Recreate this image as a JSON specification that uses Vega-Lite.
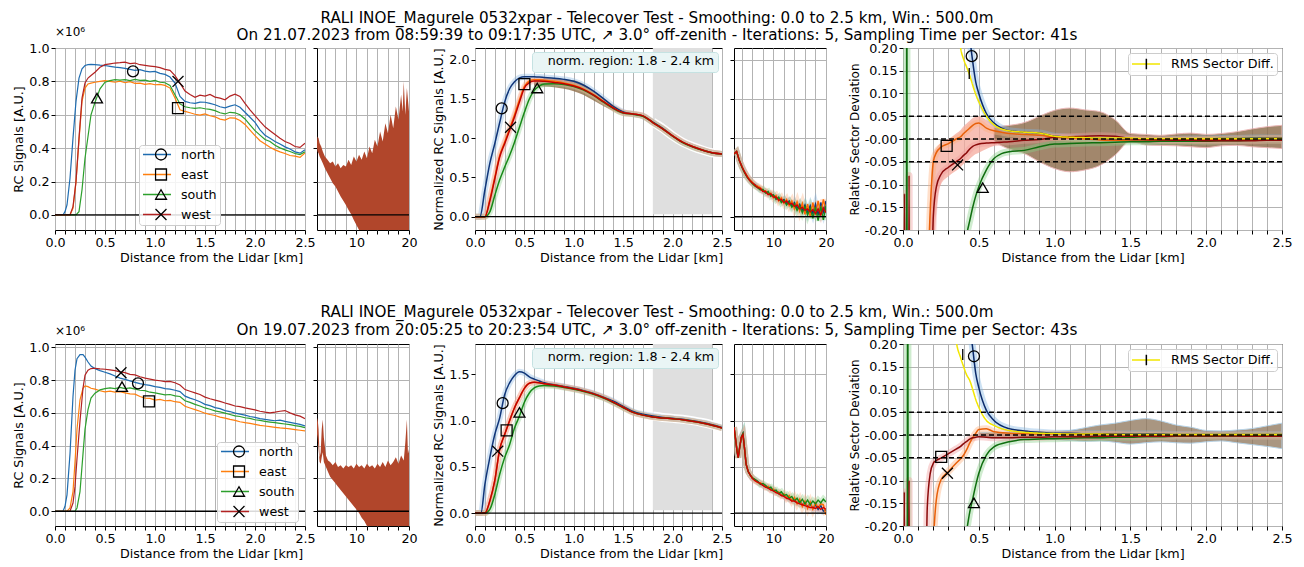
{
"$schema":"https://vega.github.io/schema/vega-lite/v6.json",
"padding":{"left":12,"top":10,"right":5,"bottom":2},
"background":"white",
"spacing":40,
"resolve":{"scale":{"color":"independent","shape":"independent","fill":"independent","stroke":"independent","strokeDash":"independent"},"legend":{"color":"independent","shape":"independent","fill":"independent","stroke":"independent","strokeDash":"independent"}},
"datasets":{
"one":[{"k":1}],
"dl":[{"v":-0.05},{"v":0},{"v":0.05}],
"nr":[{"x1":1.8,"x2":2.4,"lab":"norm. region: 1.8 - 2.4 km"}],
"mk":[
{"p":"a1","x":0.78,"y":0.86,"m":"n"},{"p":"a1","x":1.23,"y":0.64,"m":"e"},{"p":"a1","x":0.42,"y":0.70,"m":"s"},{"p":"a1","x":1.23,"y":0.80,"m":"w"},
{"p":"a3","x":0.27,"y":1.38,"m":"n"},{"p":"a3","x":0.50,"y":1.69,"m":"e"},{"p":"a3","x":0.63,"y":1.64,"m":"s"},{"p":"a3","x":0.36,"y":1.14,"m":"w"},
{"p":"a5","x":0.453,"y":0.182,"m":"n"},{"p":"a5","x":0.288,"y":-0.015,"m":"e"},{"p":"a5","x":0.526,"y":-0.107,"m":"s"},{"p":"a5","x":0.36,"y":-0.057,"m":"w"},{"p":"a5","x":0.437,"y":0.144,"m":"r"},
{"p":"b1","x":0.83,"y":0.78,"m":"n"},{"p":"b1","x":0.94,"y":0.67,"m":"e"},{"p":"b1","x":0.67,"y":0.76,"m":"s"},{"p":"b1","x":0.66,"y":0.845,"m":"w"},
{"p":"b3","x":0.28,"y":1.19,"m":"n"},{"p":"b3","x":0.32,"y":0.895,"m":"e"},{"p":"b3","x":0.45,"y":1.09,"m":"s"},{"p":"b3","x":0.23,"y":0.67,"m":"w"},
{"p":"b5","x":0.468,"y":0.173,"m":"n"},{"p":"b5","x":0.252,"y":-0.048,"m":"e"},{"p":"b5","x":0.468,"y":-0.149,"m":"s"},{"p":"b5","x":0.293,"y":-0.084,"m":"w"},{"p":"b5","x":0.394,"y":0.177,"m":"r"}
],
"a1":[
{"x":0,"n":0,"e":0,"s":0,"w":0},{"x":0.05,"n":0,"e":0,"s":0,"w":0},{"x":0.08,"n":0,"e":0,"s":0,"w":0},{"x":0.1,"n":0.02,"e":0,"s":0,"w":0},{"x":0.12,"n":0.06,"e":0,"s":0,"w":0},
{"x":0.15,"n":0.22,"e":0,"s":0,"w":0},{"x":0.18,"n":0.46,"e":0.04,"s":0,"w":0.05},{"x":0.21,"n":0.68,"e":0.2,"s":0,"w":0.2},{"x":0.24,"n":0.82,"e":0.45,"s":0.02,"w":0.46},
{"x":0.27,"n":0.875,"e":0.68,"s":0.15,"w":0.7},{"x":0.3,"n":0.895,"e":0.76,"s":0.34,"w":0.79},{"x":0.33,"n":0.9,"e":0.785,"s":0.47,"w":0.82},{"x":0.36,"n":0.902,"e":0.79,"s":0.6,"w":0.835},
{"x":0.4,"n":0.9,"e":0.795,"s":0.675,"w":0.855},{"x":0.45,"n":0.897,"e":0.8,"s":0.755,"w":0.885},{"x":0.5,"n":0.895,"e":0.805,"s":0.795,"w":0.9},{"x":0.55,"n":0.89,"e":0.8,"s":0.805,"w":0.905},
{"x":0.6,"n":0.885,"e":0.795,"s":0.81,"w":0.91},{"x":0.65,"n":0.882,"e":0.802,"s":0.808,"w":0.912},{"x":0.7,"n":0.878,"e":0.792,"s":0.81,"w":0.915},{"x":0.75,"n":0.872,"e":0.798,"s":0.805,"w":0.907},
{"x":0.8,"n":0.866,"e":0.788,"s":0.812,"w":0.91},{"x":0.85,"n":0.87,"e":0.79,"s":0.806,"w":0.9},{"x":0.9,"n":0.862,"e":0.782,"s":0.808,"w":0.896},{"x":0.95,"n":0.857,"e":0.787,"s":0.8,"w":0.892},
{"x":1.0,"n":0.86,"e":0.78,"s":0.806,"w":0.888},{"x":1.05,"n":0.848,"e":0.782,"s":0.795,"w":0.882},{"x":1.1,"n":0.842,"e":0.776,"s":0.792,"w":0.872},{"x":1.15,"n":0.826,"e":0.76,"s":0.776,"w":0.866},
{"x":1.2,"n":0.79,"e":0.7,"s":0.72,"w":0.835},{"x":1.25,"n":0.71,"e":0.63,"s":0.665,"w":0.79},{"x":1.3,"n":0.68,"e":0.62,"s":0.648,"w":0.742},{"x":1.35,"n":0.672,"e":0.612,"s":0.642,"w":0.722},
{"x":1.4,"n":0.668,"e":0.603,"s":0.638,"w":0.705},{"x":1.45,"n":0.676,"e":0.598,"s":0.642,"w":0.718},{"x":1.5,"n":0.675,"e":0.605,"s":0.636,"w":0.712},{"x":1.55,"n":0.668,"e":0.594,"s":0.632,"w":0.722},
{"x":1.6,"n":0.66,"e":0.588,"s":0.625,"w":0.706},{"x":1.65,"n":0.648,"e":0.574,"s":0.612,"w":0.7},{"x":1.7,"n":0.642,"e":0.568,"s":0.605,"w":0.69},{"x":1.75,"n":0.652,"e":0.582,"s":0.615,"w":0.712},
{"x":1.8,"n":0.66,"e":0.58,"s":0.612,"w":0.724},{"x":1.85,"n":0.645,"e":0.566,"s":0.6,"w":0.71},{"x":1.9,"n":0.615,"e":0.542,"s":0.575,"w":0.668},{"x":1.95,"n":0.585,"e":0.508,"s":0.54,"w":0.63},
{"x":2.0,"n":0.555,"e":0.475,"s":0.505,"w":0.595},{"x":2.05,"n":0.51,"e":0.445,"s":0.478,"w":0.56},{"x":2.1,"n":0.478,"e":0.425,"s":0.452,"w":0.528},{"x":2.15,"n":0.46,"e":0.405,"s":0.44,"w":0.505},
{"x":2.2,"n":0.44,"e":0.39,"s":0.418,"w":0.482},{"x":2.25,"n":0.425,"e":0.378,"s":0.402,"w":0.46},{"x":2.3,"n":0.408,"e":0.368,"s":0.39,"w":0.44},{"x":2.35,"n":0.395,"e":0.356,"s":0.38,"w":0.428},
{"x":2.4,"n":0.378,"e":0.352,"s":0.368,"w":0.41},{"x":2.45,"n":0.37,"e":0.345,"s":0.362,"w":0.405},{"x":2.5,"n":0.39,"e":0.372,"s":0.378,"w":0.43}
],
"b1":[
{"x":0,"n":0,"e":0,"s":0,"w":0},{"x":0.05,"n":0,"e":0,"s":0,"w":0},{"x":0.08,"n":0,"e":0,"s":0,"w":0},{"x":0.1,"n":0.03,"e":0,"s":0,"w":0},{"x":0.12,"n":0.1,"e":0,"s":0,"w":0},
{"x":0.15,"n":0.35,"e":0.02,"s":0,"w":0},{"x":0.18,"n":0.7,"e":0.12,"s":0,"w":0.05},{"x":0.2,"n":0.86,"e":0.3,"s":0,"w":0.15},{"x":0.22,"n":0.93,"e":0.5,"s":0.02,"w":0.32},
{"x":0.25,"n":0.955,"e":0.68,"s":0.12,"w":0.55},{"x":0.28,"n":0.955,"e":0.75,"s":0.35,"w":0.75},{"x":0.3,"n":0.94,"e":0.765,"s":0.5,"w":0.83},{"x":0.33,"n":0.91,"e":0.76,"s":0.62,"w":0.86},
{"x":0.36,"n":0.885,"e":0.75,"s":0.69,"w":0.87},{"x":0.4,"n":0.87,"e":0.745,"s":0.72,"w":0.872},{"x":0.45,"n":0.858,"e":0.735,"s":0.74,"w":0.868},{"x":0.5,"n":0.848,"e":0.728,"s":0.748,"w":0.866},
{"x":0.55,"n":0.838,"e":0.732,"s":0.752,"w":0.862},{"x":0.6,"n":0.825,"e":0.726,"s":0.748,"w":0.858},{"x":0.65,"n":0.812,"e":0.73,"s":0.755,"w":0.85},{"x":0.7,"n":0.804,"e":0.722,"s":0.748,"w":0.845},
{"x":0.75,"n":0.795,"e":0.716,"s":0.752,"w":0.835},{"x":0.8,"n":0.786,"e":0.714,"s":0.745,"w":0.832},{"x":0.85,"n":0.778,"e":0.7,"s":0.738,"w":0.82},{"x":0.9,"n":0.772,"e":0.69,"s":0.736,"w":0.812},
{"x":0.95,"n":0.768,"e":0.688,"s":0.726,"w":0.806},{"x":1.0,"n":0.76,"e":0.678,"s":0.722,"w":0.8},{"x":1.05,"n":0.755,"e":0.682,"s":0.716,"w":0.796},{"x":1.1,"n":0.748,"e":0.674,"s":0.71,"w":0.79},
{"x":1.15,"n":0.745,"e":0.676,"s":0.712,"w":0.792},{"x":1.2,"n":0.738,"e":0.668,"s":0.704,"w":0.784},{"x":1.25,"n":0.73,"e":0.664,"s":0.7,"w":0.77},{"x":1.3,"n":0.702,"e":0.64,"s":0.674,"w":0.742},
{"x":1.35,"n":0.69,"e":0.63,"s":0.664,"w":0.732},{"x":1.4,"n":0.68,"e":0.62,"s":0.652,"w":0.722},{"x":1.45,"n":0.668,"e":0.61,"s":0.642,"w":0.712},{"x":1.5,"n":0.652,"e":0.598,"s":0.63,"w":0.696},
{"x":1.55,"n":0.644,"e":0.59,"s":0.622,"w":0.686},{"x":1.6,"n":0.632,"e":0.584,"s":0.612,"w":0.678},{"x":1.65,"n":0.626,"e":0.574,"s":0.606,"w":0.67},{"x":1.7,"n":0.614,"e":0.568,"s":0.598,"w":0.66},
{"x":1.75,"n":0.608,"e":0.56,"s":0.59,"w":0.652},{"x":1.8,"n":0.598,"e":0.554,"s":0.582,"w":0.642},{"x":1.85,"n":0.592,"e":0.546,"s":0.578,"w":0.638},{"x":1.9,"n":0.586,"e":0.54,"s":0.57,"w":0.63},
{"x":1.95,"n":0.578,"e":0.536,"s":0.566,"w":0.624},{"x":2.0,"n":0.572,"e":0.53,"s":0.558,"w":0.618},{"x":2.05,"n":0.565,"e":0.524,"s":0.554,"w":0.61},{"x":2.1,"n":0.56,"e":0.52,"s":0.548,"w":0.604},
{"x":2.15,"n":0.556,"e":0.516,"s":0.544,"w":0.6},{"x":2.2,"n":0.552,"e":0.512,"s":0.54,"w":0.604},{"x":2.25,"n":0.556,"e":0.508,"s":0.536,"w":0.61},{"x":2.3,"n":0.548,"e":0.506,"s":0.532,"w":0.614},
{"x":2.35,"n":0.542,"e":0.502,"s":0.528,"w":0.6},{"x":2.4,"n":0.536,"e":0.498,"s":0.522,"w":0.588},{"x":2.45,"n":0.53,"e":0.494,"s":0.518,"w":0.58},{"x":2.5,"n":0.52,"e":0.49,"s":0.51,"w":0.565}
],
"a2":[
{"x":2.5,"lo":0.4,"hi":0.44},{"x":2.6,"lo":0.38,"hi":0.47},{"x":2.8,"lo":0.37,"hi":0.46},{"x":3.0,"lo":0.35,"hi":0.43},{"x":3.3,"lo":0.33,"hi":0.41},{"x":3.6,"lo":0.31,"hi":0.38},
{"x":4.0,"lo":0.28,"hi":0.35},{"x":4.5,"lo":0.25,"hi":0.33},{"x":5.0,"lo":0.22,"hi":0.31},{"x":5.5,"lo":0.19,"hi":0.32},{"x":6.0,"lo":0.17,"hi":0.29},{"x":6.5,"lo":0.14,"hi":0.31},
{"x":7.0,"lo":0.11,"hi":0.28},{"x":7.5,"lo":0.085,"hi":0.3},{"x":8.0,"lo":0.06,"hi":0.29},{"x":8.5,"lo":0.03,"hi":0.33},{"x":9.0,"lo":0.005,"hi":0.3},{"x":9.5,"lo":-0.03,"hi":0.35},
{"x":10,"lo":-0.06,"hi":0.32},{"x":10.5,"lo":-0.09,"hi":0.36},{"x":11,"lo":-0.12,"hi":0.33},{"x":11.5,"lo":-0.12,"hi":0.38},{"x":12,"lo":-0.12,"hi":0.34},{"x":12.5,"lo":-0.12,"hi":0.41},
{"x":13,"lo":-0.12,"hi":0.37},{"x":13.5,"lo":-0.12,"hi":0.45},{"x":14,"lo":-0.12,"hi":0.41},{"x":14.5,"lo":-0.12,"hi":0.5},{"x":15,"lo":-0.12,"hi":0.44},{"x":15.5,"lo":-0.12,"hi":0.55},
{"x":16,"lo":-0.12,"hi":0.49},{"x":16.5,"lo":-0.12,"hi":0.6},{"x":17,"lo":-0.12,"hi":0.52},{"x":17.5,"lo":-0.12,"hi":0.65},{"x":18,"lo":-0.12,"hi":0.57},{"x":18.5,"lo":-0.12,"hi":0.72},
{"x":18.8,"lo":-0.12,"hi":0.62},{"x":19.0,"lo":-0.12,"hi":0.8},{"x":19.3,"lo":-0.12,"hi":0.6},{"x":19.6,"lo":-0.12,"hi":0.76},{"x":20,"lo":-0.12,"hi":0.62}
],
"b2":[
{"x":2.5,"lo":0.47,"hi":0.55},{"x":2.6,"lo":0.45,"hi":0.57},{"x":2.8,"lo":0.38,"hi":0.5},{"x":3.0,"lo":0.3,"hi":0.33},{"x":3.2,"lo":0.29,"hi":0.36},{"x":3.4,"lo":0.33,"hi":0.5},
{"x":3.6,"lo":0.36,"hi":0.56},{"x":3.8,"lo":0.3,"hi":0.45},{"x":4.2,"lo":0.27,"hi":0.34},{"x":4.6,"lo":0.24,"hi":0.31},{"x":5.0,"lo":0.21,"hi":0.3},{"x":5.5,"lo":0.19,"hi":0.28},
{"x":6.0,"lo":0.17,"hi":0.3},{"x":6.5,"lo":0.15,"hi":0.27},{"x":7.0,"lo":0.13,"hi":0.28},{"x":7.5,"lo":0.11,"hi":0.26},{"x":8.0,"lo":0.09,"hi":0.28},{"x":8.5,"lo":0.07,"hi":0.27},
{"x":9.0,"lo":0.05,"hi":0.28},{"x":9.5,"lo":0.03,"hi":0.26},{"x":10,"lo":0.01,"hi":0.29},{"x":10.5,"lo":-0.01,"hi":0.27},{"x":11,"lo":-0.04,"hi":0.28},{"x":11.5,"lo":-0.06,"hi":0.26},
{"x":12,"lo":-0.09,"hi":0.29},{"x":12.5,"lo":-0.12,"hi":0.27},{"x":13,"lo":-0.12,"hi":0.28},{"x":13.5,"lo":-0.12,"hi":0.26},{"x":14,"lo":-0.12,"hi":0.29},{"x":14.5,"lo":-0.12,"hi":0.27},
{"x":15,"lo":-0.12,"hi":0.3},{"x":15.5,"lo":-0.12,"hi":0.27},{"x":16,"lo":-0.12,"hi":0.31},{"x":16.5,"lo":-0.12,"hi":0.28},{"x":17,"lo":-0.12,"hi":0.3},{"x":17.5,"lo":-0.12,"hi":0.33},
{"x":18,"lo":-0.12,"hi":0.29},{"x":18.5,"lo":-0.12,"hi":0.34},{"x":19,"lo":-0.12,"hi":0.31},{"x":19.3,"lo":-0.12,"hi":0.42},{"x":19.6,"lo":-0.12,"hi":0.56},{"x":19.8,"lo":-0.12,"hi":0.35},{"x":20,"lo":-0.12,"hi":0.38}
],
"a3":[
{"x":0,"n":0,"e":0,"s":0,"w":0},{"x":0.05,"n":0,"e":0,"s":0,"w":0},{"x":0.1,"n":0.34,"e":0,"s":0,"w":0},{"x":0.15,"n":0.68,"e":0.22,"s":0.06,"w":0.2},
{"x":0.2,"n":0.93,"e":0.5,"s":0.27,"w":0.48},{"x":0.25,"n":1.2,"e":0.78,"s":0.47,"w":0.76},{"x":0.3,"n":1.46,"e":0.95,"s":0.63,"w":0.93},{"x":0.35,"n":1.63,"e":1.12,"s":0.78,"w":1.1},
{"x":0.4,"n":1.72,"e":1.3,"s":0.95,"w":1.27},{"x":0.45,"n":1.77,"e":1.49,"s":1.14,"w":1.46},{"x":0.5,"n":1.785,"e":1.66,"s":1.33,"w":1.64},{"x":0.55,"n":1.785,"e":1.73,"s":1.5,"w":1.71},
{"x":0.6,"n":1.782,"e":1.745,"s":1.61,"w":1.73,"bl":1.66,"bh":1.75},{"x":0.65,"n":1.78,"e":1.745,"s":1.665,"w":1.73,"bl":1.66,"bh":1.755},{"x":0.7,"n":1.775,"e":1.74,"s":1.69,"w":1.725,"bl":1.66,"bh":1.76},
{"x":0.8,"n":1.765,"e":1.725,"s":1.695,"w":1.71,"bl":1.65,"bh":1.76},{"x":0.9,"n":1.75,"e":1.705,"s":1.685,"w":1.695,"bl":1.63,"bh":1.75},{"x":1.0,"n":1.725,"e":1.675,"s":1.66,"w":1.665,"bl":1.6,"bh":1.74},
{"x":1.1,"n":1.675,"e":1.625,"s":1.615,"w":1.62,"bl":1.55,"bh":1.69},{"x":1.2,"n":1.6,"e":1.555,"s":1.545,"w":1.55,"bl":1.48,"bh":1.6},{"x":1.3,"n":1.505,"e":1.47,"s":1.46,"w":1.465,"bl":1.41,"bh":1.5},
{"x":1.4,"n":1.405,"e":1.385,"s":1.38,"w":1.385,"bl":1.35,"bh":1.4},{"x":1.5,"n":1.335,"e":1.325,"s":1.32,"w":1.325,"bl":1.31,"bh":1.335},{"x":1.6,"n":1.31,"e":1.31,"s":1.305,"w":1.31},
{"x":1.7,"n":1.285,"e":1.285,"s":1.28,"w":1.285},{"x":1.8,"n":1.205,"e":1.2,"s":1.2,"w":1.2},{"x":1.9,"n":1.125,"e":1.12,"s":1.12,"w":1.12},{"x":2.0,"n":1.03,"e":1.03,"s":1.025,"w":1.03},
{"x":2.1,"n":0.95,"e":0.95,"s":0.945,"w":0.95},{"x":2.2,"n":0.895,"e":0.895,"s":0.89,"w":0.895},{"x":2.3,"n":0.85,"e":0.85,"s":0.848,"w":0.85},{"x":2.4,"n":0.815,"e":0.815,"s":0.812,"w":0.815},{"x":2.5,"n":0.8,"e":0.8,"s":0.8,"w":0.8}
],
"b3":[
{"x":0,"n":0,"e":0,"s":0,"w":0},{"x":0.06,"n":0,"e":0,"s":0,"w":0},{"x":0.1,"n":0.31,"e":0,"s":0,"w":0},{"x":0.15,"n":0.6,"e":0.13,"s":0.04,"w":0.13},
{"x":0.2,"n":0.85,"e":0.35,"s":0.2,"w":0.35},{"x":0.25,"n":1.03,"e":0.69,"s":0.42,"w":0.69},{"x":0.3,"n":1.28,"e":0.85,"s":0.6,"w":0.85},{"x":0.35,"n":1.41,"e":1.0,"s":0.74,"w":1.0},
{"x":0.4,"n":1.49,"e":1.14,"s":0.92,"w":1.14},{"x":0.45,"n":1.53,"e":1.25,"s":1.05,"w":1.25},{"x":0.5,"n":1.515,"e":1.35,"s":1.2,"w":1.35},{"x":0.55,"n":1.475,"e":1.405,"s":1.3,"w":1.405},
{"x":0.6,"n":1.45,"e":1.415,"s":1.355,"w":1.415},{"x":0.65,"n":1.43,"e":1.41,"s":1.375,"w":1.41},{"x":0.7,"n":1.41,"e":1.4,"s":1.38,"w":1.4},{"x":0.8,"n":1.39,"e":1.385,"s":1.375,"w":1.385},
{"x":0.9,"n":1.37,"e":1.365,"s":1.36,"w":1.365},{"x":1.0,"n":1.35,"e":1.345,"s":1.34,"w":1.345},{"x":1.1,"n":1.325,"e":1.32,"s":1.315,"w":1.32},{"x":1.2,"n":1.295,"e":1.29,"s":1.285,"w":1.29},
{"x":1.3,"n":1.255,"e":1.25,"s":1.245,"w":1.25},{"x":1.4,"n":1.21,"e":1.2,"s":1.195,"w":1.2},{"x":1.5,"n":1.155,"e":1.145,"s":1.14,"w":1.145},{"x":1.6,"n":1.1,"e":1.09,"s":1.09,"w":1.09},
{"x":1.7,"n":1.07,"e":1.06,"s":1.06,"w":1.06},{"x":1.8,"n":1.05,"e":1.04,"s":1.04,"w":1.04},{"x":1.9,"n":1.035,"e":1.03,"s":1.03,"w":1.03},{"x":2.0,"n":1.025,"e":1.02,"s":1.02,"w":1.02},
{"x":2.1,"n":1.015,"e":1.01,"s":1.01,"w":1.01},{"x":2.2,"n":1.0,"e":0.995,"s":0.995,"w":0.995},{"x":2.3,"n":0.98,"e":0.975,"s":0.975,"w":0.975},{"x":2.4,"n":0.955,"e":0.95,"s":0.95,"w":0.95},{"x":2.5,"n":0.925,"e":0.92,"s":0.92,"w":0.92}
],
"a4":[
{"x":2.5,"n":0.8,"e":0.8,"s":0.8,"w":0.8},{"x":3.0,"n":0.83,"e":0.83,"s":0.83,"w":0.83},{"x":3.5,"n":0.72,"e":0.72,"s":0.72,"w":0.72},{"x":4.0,"n":0.64,"e":0.64,"s":0.63,"w":0.64},
{"x":4.5,"n":0.57,"e":0.57,"s":0.56,"w":0.57},{"x":5.0,"n":0.51,"e":0.52,"s":0.5,"w":0.51},{"x":5.5,"n":0.47,"e":0.47,"s":0.46,"w":0.46},{"x":6.0,"n":0.43,"e":0.44,"s":0.42,"w":0.43},
{"x":6.5,"n":0.41,"e":0.4,"s":0.39,"w":0.4},{"x":7.0,"n":0.38,"e":0.39,"s":0.37,"w":0.37},{"x":7.5,"n":0.35,"e":0.37,"s":0.34,"w":0.36},{"x":8.0,"n":0.34,"e":0.33,"s":0.35,"w":0.32},
{"x":8.5,"n":0.31,"e":0.33,"s":0.3,"w":0.32},{"x":9.0,"n":0.3,"e":0.29,"s":0.32,"w":0.28},{"x":9.5,"n":0.28,"e":0.3,"s":0.26,"w":0.29},{"x":10.0,"n":0.27,"e":0.24,"s":0.28,"w":0.25},
{"x":10.5,"n":0.23,"e":0.27,"s":0.22,"w":0.25},{"x":11.0,"n":0.24,"e":0.2,"s":0.25,"w":0.21},{"x":11.5,"n":0.2,"e":0.24,"s":0.18,"w":0.22},{"x":12.0,"n":0.22,"e":0.17,"s":0.21,"w":0.18},
{"x":12.5,"n":0.17,"e":0.22,"s":0.15,"w":0.2},{"x":13.0,"n":0.2,"e":0.14,"s":0.19,"w":0.16},{"x":13.5,"n":0.14,"e":0.2,"s":0.12,"w":0.17},{"x":14.0,"n":0.18,"e":0.1,"s":0.16,"w":0.13},
{"x":14.5,"n":0.11,"e":0.19,"s":0.08,"w":0.15},{"x":15.0,"n":0.16,"e":0.07,"s":0.14,"w":0.1},{"x":15.5,"n":0.08,"e":0.17,"s":0.05,"w":0.12},{"x":16.0,"n":0.15,"e":0.03,"s":0.13,"w":0.08},
{"x":16.5,"n":0.05,"e":0.16,"s":0.02,"w":0.1},{"x":17.0,"n":0.14,"e":0.0,"s":0.11,"w":0.06},{"x":17.5,"n":0.04,"e":0.18,"s":-0.02,"w":0.09},{"x":18.0,"n":0.16,"e":0.02,"s":0.12,"w":0.04},
{"x":18.5,"n":0.02,"e":0.2,"s":-0.05,"w":0.1},{"x":19.0,"n":0.18,"e":0.03,"s":0.13,"w":0.02},{"x":19.5,"n":0.06,"e":0.22,"s":-0.04,"w":0.11},{"x":20.0,"n":0.2,"e":0.08,"s":0.14,"w":0.05}
],
"b4":[
{"x":2.5,"n":0.93,"e":0.93,"s":0.93,"w":0.93},{"x":2.8,"n":0.8,"e":0.8,"s":0.8,"w":0.8},{"x":3.1,"n":0.66,"e":0.67,"s":0.66,"w":0.66},{"x":3.3,"n":0.6,"e":0.6,"s":0.6,"w":0.6},
{"x":3.6,"n":0.72,"e":0.72,"s":0.72,"w":0.72},{"x":3.9,"n":0.82,"e":0.82,"s":0.82,"w":0.82},{"x":4.2,"n":0.86,"e":0.85,"s":0.86,"w":0.85},{"x":4.5,"n":0.7,"e":0.7,"s":0.7,"w":0.7},
{"x":4.8,"n":0.53,"e":0.53,"s":0.53,"w":0.53},{"x":5.2,"n":0.45,"e":0.45,"s":0.45,"w":0.45},{"x":5.6,"n":0.41,"e":0.41,"s":0.41,"w":0.41},{"x":6.0,"n":0.38,"e":0.385,"s":0.38,"w":0.375},
{"x":6.5,"n":0.36,"e":0.35,"s":0.365,"w":0.35},{"x":7.0,"n":0.34,"e":0.33,"s":0.345,"w":0.335},{"x":7.5,"n":0.32,"e":0.33,"s":0.31,"w":0.32},{"x":8.0,"n":0.3,"e":0.31,"s":0.32,"w":0.3},
{"x":8.5,"n":0.29,"e":0.28,"s":0.3,"w":0.28},{"x":9.0,"n":0.28,"e":0.29,"s":0.27,"w":0.27},{"x":9.5,"n":0.26,"e":0.25,"s":0.28,"w":0.25},{"x":10,"n":0.25,"e":0.26,"s":0.24,"w":0.24},
{"x":10.5,"n":0.23,"e":0.22,"s":0.25,"w":0.22},{"x":11,"n":0.22,"e":0.23,"s":0.21,"w":0.21},{"x":11.5,"n":0.2,"e":0.19,"s":0.23,"w":0.19},{"x":12,"n":0.19,"e":0.21,"s":0.19,"w":0.18},
{"x":12.5,"n":0.17,"e":0.16,"s":0.2,"w":0.16},{"x":13,"n":0.16,"e":0.19,"s":0.16,"w":0.15},{"x":13.5,"n":0.14,"e":0.13,"s":0.18,"w":0.13},{"x":14,"n":0.14,"e":0.17,"s":0.13,"w":0.13},
{"x":14.5,"n":0.11,"e":0.1,"s":0.16,"w":0.11},{"x":15,"n":0.13,"e":0.15,"s":0.11,"w":0.1},{"x":15.5,"n":0.09,"e":0.07,"s":0.15,"w":0.09},{"x":16,"n":0.11,"e":0.13,"s":0.1,"w":0.08},
{"x":16.5,"n":0.07,"e":0.05,"s":0.14,"w":0.07},{"x":17,"n":0.1,"e":0.12,"s":0.09,"w":0.06},{"x":17.5,"n":0.05,"e":0.04,"s":0.13,"w":0.06},{"x":18,"n":0.09,"e":0.11,"s":0.1,"w":0.05},
{"x":18.5,"n":0.04,"e":0.06,"s":0.14,"w":0.07},{"x":19,"n":0.08,"e":0.1,"s":0.11,"w":0.04},{"x":19.5,"n":0.02,"e":0.09,"s":0.15,"w":0.06},{"x":20,"n":0.03,"e":-0.02,"s":0.12,"w":0.04}
],
"a5":[
{"x":0,"n":0.6,"e":-0.6,"s":-0.6,"w":-0.6,"r":0.6},{"x":0.005,"n":0.6,"e":-0.6,"s":-0.6,"w":-0.6,"r":0.6},{"x":0.01,"n":0.6,"e":-0.6,"s":-0.6,"w":-0.12,"r":0.6},
{"x":0.015,"n":0.6,"e":-0.6,"s":-0.6,"w":-0.6,"r":0.6},{"x":0.022,"n":0.6,"e":-0.6,"s":-0.6,"w":-0.6,"r":0.6},{"x":0.025,"n":0.6,"e":-0.6,"s":0.6,"w":-0.6,"r":0.6},
{"x":0.028,"n":0.6,"e":-0.6,"s":-0.6,"w":-0.6,"r":0.6},{"x":0.036,"n":0.6,"e":-0.6,"s":-0.6,"w":-0.6,"r":0.6},{"x":0.04,"n":0.6,"e":-0.6,"s":-0.6,"w":-0.08,"r":0.6},
{"x":0.044,"n":0.6,"e":-0.6,"s":-0.6,"w":-0.6,"r":0.6},{"x":0.1,"n":0.6,"e":-0.6,"s":-0.6,"w":-0.6,"r":0.6},{"x":0.15,"n":0.6,"e":-0.6,"s":-0.6,"w":-0.6,"r":0.6},
{"x":0.17,"n":0.6,"e":-0.25,"s":-0.6,"w":-0.6,"r":0.6,"pl":-0.6,"ph":-0.3},
{"x":0.19,"n":0.6,"e":-0.09,"s":-0.6,"w":-0.3,"r":0.6,"pl":-0.6,"ph":-0.06},
{"x":0.2,"n":0.6,"e":-0.05,"s":-0.6,"w":-0.17,"r":0.6,"pl":-0.3,"ph":-0.035},
{"x":0.22,"n":0.6,"e":-0.03,"s":-0.6,"w":-0.105,"r":0.6,"pl":-0.16,"ph":-0.02},
{"x":0.25,"n":0.6,"e":-0.018,"s":-0.6,"w":-0.078,"r":0.6,"pl":-0.1,"ph":-0.008},
{"x":0.3,"n":0.6,"e":-0.01,"s":-0.6,"w":-0.062,"r":0.6,"pl":-0.082,"ph":0.0},
{"x":0.35,"n":0.6,"e":0.0,"s":-0.6,"w":-0.05,"r":0.3,"pl":-0.07,"ph":0.012},
{"x":0.38,"n":0.6,"e":0.005,"s":-0.6,"w":-0.043,"r":0.2,"pl":-0.062,"ph":0.02},
{"x":0.4,"n":0.6,"e":0.012,"s":-0.25,"w":-0.036,"r":0.175,"pl":-0.055,"ph":0.028},
{"x":0.42,"n":0.35,"e":0.018,"s":-0.21,"w":-0.03,"r":0.158,"pl":-0.05,"ph":0.034},
{"x":0.44,"n":0.23,"e":0.024,"s":-0.18,"w":-0.022,"r":0.14,"pl":-0.044,"ph":0.04},
{"x":0.46,"n":0.17,"e":0.03,"s":-0.15,"w":-0.016,"r":0.118,"pl":-0.038,"ph":0.046},
{"x":0.48,"n":0.125,"e":0.034,"s":-0.125,"w":-0.013,"r":0.098,"pl":-0.033,"ph":0.049},
{"x":0.5,"n":0.1,"e":0.035,"s":-0.105,"w":-0.011,"r":0.082,"pl":-0.03,"ph":0.05},
{"x":0.55,"n":0.056,"e":0.024,"s":-0.068,"w":-0.009,"r":0.05,"pl":-0.022,"ph":0.042},
{"x":0.6,"n":0.035,"e":0.018,"s":-0.043,"w":-0.008,"r":0.031,"pl":-0.015,"ph":0.032,"bl":-0.005,"bh":0.025},
{"x":0.65,"n":0.024,"e":0.015,"s":-0.032,"w":-0.007,"r":0.022,"pl":-0.01,"ph":0.026,"bl":-0.015,"bh":0.028},
{"x":0.7,"n":0.018,"e":0.012,"s":-0.028,"w":-0.006,"r":0.018,"bl":-0.022,"bh":0.03},
{"x":0.8,"n":0.015,"e":0.01,"s":-0.025,"w":-0.003,"r":0.015,"bl":-0.032,"bh":0.036},
{"x":0.9,"n":0.013,"e":0.008,"s":-0.017,"w":-0.001,"r":0.013,"bl":-0.05,"bh":0.05},
{"x":1.0,"n":0.006,"e":0.004,"s":-0.011,"w":0.004,"r":0.006,"bl":-0.065,"bh":0.063},
{"x":1.1,"n":0.004,"e":0.002,"s":-0.01,"w":0.005,"r":0.004,"bl":-0.072,"bh":0.068},
{"x":1.2,"n":0.002,"e":0.0,"s":-0.009,"w":0.006,"r":0.003,"bl":-0.068,"bh":0.064},
{"x":1.3,"n":0.001,"e":-0.002,"s":-0.008,"w":0.007,"r":0.002,"bl":-0.058,"bh":0.06},
{"x":1.4,"n":0.0,"e":-0.003,"s":-0.007,"w":0.006,"r":0.002,"bl":-0.035,"bh":0.042},
{"x":1.5,"n":-0.002,"e":-0.002,"s":-0.006,"w":0.001,"r":0.002,"bl":-0.005,"bh":0.012},
{"x":1.6,"n":-0.003,"e":-0.002,"s":-0.006,"w":-0.001,"r":0.001,"bl":-0.013,"bh":0.01},
{"x":1.7,"n":-0.002,"e":-0.003,"s":-0.005,"w":-0.002,"r":0.001,"bl":-0.014,"bh":0.008},
{"x":1.8,"n":-0.001,"e":-0.002,"s":-0.005,"w":-0.003,"r":0.001,"bl":-0.015,"bh":0.011},
{"x":1.9,"n":0.0,"e":-0.002,"s":-0.005,"w":-0.003,"r":0.001,"bl":-0.017,"bh":0.013},
{"x":2.0,"n":0.0,"e":-0.001,"s":-0.005,"w":-0.004,"r":0.001,"bl":-0.019,"bh":0.01},
{"x":2.1,"n":0.001,"e":-0.001,"s":-0.004,"w":-0.004,"r":0.001,"bl":-0.015,"bh":0.012},
{"x":2.2,"n":0.001,"e":0.0,"s":-0.004,"w":-0.004,"r":0.001,"bl":-0.014,"bh":0.016},
{"x":2.3,"n":0.002,"e":0.0,"s":-0.003,"w":-0.004,"r":0.001,"bl":-0.017,"bh":0.022},
{"x":2.4,"n":0.002,"e":0.001,"s":-0.003,"w":-0.003,"r":0.001,"bl":-0.019,"bh":0.027},
{"x":2.5,"n":0.002,"e":0.001,"s":-0.003,"w":-0.003,"r":0.001,"bl":-0.021,"bh":0.03}
],
"b5":[
{"x":0,"n":0.6,"e":-0.6,"s":-0.6,"w":-0.6,"r":0.6},{"x":0.005,"n":0.6,"e":-0.6,"s":-0.6,"w":-0.6,"r":0.6},{"x":0.009,"n":0.6,"e":-0.6,"s":-0.6,"w":-0.125,"r":0.6},
{"x":0.013,"n":0.6,"e":-0.6,"s":-0.6,"w":-0.6,"r":0.6},{"x":0.027,"n":0.6,"e":-0.6,"s":-0.6,"w":-0.6,"r":0.6},{"x":0.031,"n":0.6,"e":-0.6,"s":0.6,"w":-0.6,"r":0.6},
{"x":0.035,"n":0.6,"e":-0.6,"s":-0.6,"w":-0.6,"r":0.6},{"x":0.04,"n":0.6,"e":-0.6,"s":-0.6,"w":-0.1,"r":0.6},{"x":0.044,"n":0.6,"e":-0.6,"s":-0.6,"w":-0.6,"r":0.6},
{"x":0.1,"n":0.6,"e":-0.6,"s":-0.6,"w":-0.6,"r":0.6},{"x":0.14,"n":0.6,"e":-0.6,"s":-0.6,"w":-0.6,"r":0.6},{"x":0.16,"n":0.6,"e":-0.6,"s":-0.6,"w":-0.16,"r":0.6},
{"x":0.18,"n":0.6,"e":-0.6,"s":-0.6,"w":-0.084,"r":0.6},{"x":0.2,"n":0.6,"e":-0.25,"s":-0.6,"w":-0.062,"r":0.6},{"x":0.22,"n":0.6,"e":-0.142,"s":-0.6,"w":-0.056,"r":0.6},
{"x":0.25,"n":0.6,"e":-0.099,"s":-0.6,"w":-0.051,"r":0.6},{"x":0.3,"n":0.6,"e":-0.08,"s":-0.6,"w":-0.041,"r":0.6},{"x":0.35,"n":0.6,"e":-0.062,"s":-0.6,"w":-0.031,"r":0.21},
{"x":0.38,"n":0.6,"e":-0.052,"s":-0.6,"w":-0.025,"r":0.17},{"x":0.4,"n":0.6,"e":-0.044,"s":-0.25,"w":-0.019,"r":0.15},{"x":0.42,"n":0.4,"e":-0.032,"s":-0.21,"w":-0.014,"r":0.132},
{"x":0.44,"n":0.25,"e":-0.018,"s":-0.17,"w":-0.009,"r":0.12},{"x":0.46,"n":0.19,"e":-0.006,"s":-0.14,"w":-0.006,"r":0.1},{"x":0.48,"n":0.135,"e":0.004,"s":-0.11,"w":-0.005,"r":0.078},
{"x":0.5,"n":0.104,"e":0.012,"s":-0.084,"w":-0.004,"r":0.061,"bl":-0.006,"bh":0.006},
{"x":0.55,"n":0.054,"e":0.014,"s":-0.044,"w":-0.005,"r":0.032,"bl":-0.006,"bh":0.006},
{"x":0.6,"n":0.032,"e":0.007,"s":-0.026,"w":-0.006,"r":0.021,"bl":-0.007,"bh":0.006},
{"x":0.7,"n":0.014,"e":0.004,"s":-0.015,"w":-0.006,"r":0.01,"bl":-0.008,"bh":0.006},
{"x":0.8,"n":0.009,"e":0.003,"s":-0.01,"w":-0.005,"r":0.006,"bl":-0.008,"bh":0.006},
{"x":0.9,"n":0.006,"e":0.002,"s":-0.009,"w":-0.005,"r":0.004,"bl":-0.009,"bh":0.007},
{"x":1.0,"n":0.004,"e":0.002,"s":-0.008,"w":-0.004,"r":0.003,"bl":-0.01,"bh":0.008},
{"x":1.1,"n":0.004,"e":0.001,"s":-0.007,"w":-0.004,"r":0.002,"bl":-0.012,"bh":0.01},
{"x":1.2,"n":0.003,"e":0.001,"s":-0.006,"w":-0.004,"r":0.002,"bl":-0.014,"bh":0.016},
{"x":1.3,"n":0.003,"e":0.001,"s":-0.006,"w":-0.003,"r":0.002,"bl":-0.013,"bh":0.022},
{"x":1.4,"n":0.002,"e":0.001,"s":-0.005,"w":-0.003,"r":0.001,"bl":-0.016,"bh":0.026},
{"x":1.5,"n":0.002,"e":0.0,"s":-0.005,"w":-0.003,"r":0.001,"bl":-0.02,"bh":0.032},
{"x":1.6,"n":0.002,"e":0.0,"s":-0.004,"w":-0.003,"r":0.001,"bl":-0.017,"bh":0.036},
{"x":1.7,"n":0.002,"e":0.0,"s":-0.004,"w":-0.003,"r":0.001,"bl":-0.015,"bh":0.031},
{"x":1.8,"n":0.001,"e":0.0,"s":-0.003,"w":-0.002,"r":0.001,"bl":-0.017,"bh":0.022},
{"x":1.9,"n":0.001,"e":0.0,"s":-0.003,"w":-0.002,"r":0.001,"bl":-0.018,"bh":0.017},
{"x":2.0,"n":0.001,"e":0.0,"s":-0.003,"w":-0.002,"r":0.001,"bl":-0.015,"bh":0.01},
{"x":2.1,"n":0.001,"e":0.0,"s":-0.002,"w":-0.002,"r":0.001,"bl":-0.013,"bh":0.009},
{"x":2.2,"n":0.001,"e":0.0,"s":-0.002,"w":-0.002,"r":0.001,"bl":-0.017,"bh":0.011},
{"x":2.3,"n":0.001,"e":0.0,"s":-0.002,"w":-0.003,"r":0.001,"bl":-0.021,"bh":0.014},
{"x":2.4,"n":0.001,"e":0.0,"s":-0.002,"w":-0.003,"r":0.001,"bl":-0.025,"bh":0.02},
{"x":2.5,"n":0.001,"e":0.0,"s":-0.002,"w":-0.003,"r":0.001,"bl":-0.03,"bh":0.026}
]
},
"vconcat":[
{
"title":{"text":["RALI INOE_Magurele 0532xpar - Telecover Test - Smoothing: 0.0 to 2.5 km, Win.: 500.0m","On 21.07.2023 from 08:59:39 to 09:17:35 UTC,  ↗ 3.0° off-zenith - Iterations: 5, Sampling Time per Sector: 41s"],"anchor":"start","align":"center","frame":"group","dx":602,"fontSize":15.2,"lineHeight":17.5,"offset":-18},
"bounds":"flush","spacing":12,
"resolve":{"scale":{"color":"independent","shape":"independent","fill":"independent","stroke":"independent","strokeDash":"independent"},"legend":{"color":"independent","shape":"independent","fill":"independent","stroke":"independent","strokeDash":"independent"}},
"hconcat":[
{"width":250,"height":182,
 "title":{"text":"×10⁶","anchor":"start","fontSize":12,"offset":3,"frame":"group"},
 "layer":[
 {"data":{"name":"a1"},"transform":[{"fold":["n","e","s","w"]}],"mark":{"type":"line","clip":true,"strokeWidth":1.2},
  "encoding":{
   "x":{"field":"x","type":"quantitative","scale":{"domain":[0,2.5],"nice":false},"axis":{"values":[0,0.1,0.2,0.3,0.4,0.5,0.6,0.7,0.8,0.9,1,1.1,1.2,1.3,1.4,1.5,1.6,1.7,1.8,1.9,2,2.1,2.2,2.3,2.4,2.5],"tickCount":100,"labelExpr":"round(datum.value*10)%5==0 ? format(datum.value,'.1f') : ''","labelOverlap":false,"title":"Distance from the Lidar [km]","titleX":156}},
   "y":{"field":"value","type":"quantitative","scale":{"domain":[-0.09,1.0],"nice":false,"zero":false},"axis":{"values":[0,0.2,0.4,0.6,0.8,1],"tickCount":100,"format":".1f","labelOverlap":false,"title":"RC Signals [A.U.]"}},
   "color":{"field":"key","type":"nominal","scale":{"domain":["n","e","s","w"],"range":["#1f6cb0","#ff7f0e","#2ca02c","#b22222"]},
     "legend":{"title":null,"orient":"none","legendX":84,"legendY":97,"direction":"vertical","symbolType":"stroke","symbolSize":784,"symbolStrokeWidth":1.5,"clipHeight":13,"rowPadding":6,"padding":3,"labelOffset":9,"labelExpr":"datum.label=='n'?'north':datum.label=='e'?'east':datum.label=='s'?'south':'west'","fillColor":"rgba(255,255,255,0.85)","strokeColor":"#cccccc","cornerRadius":3}}
  }},
 {"data":{"name":"one"},"mark":{"type":"rule","color":"black","strokeWidth":1.3},"encoding":{"y":{"datum":0,"type":"quantitative"}}},
 {"data":{"name":"mk"},"transform":[{"filter":"datum.p=='a1'"}],"mark":{"type":"point","filled":false,"color":"black","strokeWidth":1.3,"size":120,"opacity":1},
  "encoding":{"x":{"field":"x","type":"quantitative"},"y":{"field":"y","type":"quantitative"},
   "shape":{"field":"m","type":"nominal","scale":{"domain":["n","e","s","w","r"],"range":["circle","square","triangle-up","M-1,-1L1,1M-1,1L1,-1","M0,-1L0,1"]},
     "legend":{"title":null,"values":["n","e","s","w"],"orient":"none","legendX":96.5,"legendY":97,"direction":"vertical","symbolSize":120,"symbolStrokeWidth":1.3,"symbolStrokeColor":"black","symbolFillColor":"transparent","clipHeight":13,"rowPadding":6,"padding":3,"labelOpacity":0}}}}
 ]},
{"width":92,"height":182,
 "layer":[
 {"data":{"name":"a2"},"mark":{"type":"area","clip":true,"color":"#b1462b","opacity":1},
  "encoding":{"x":{"field":"x","type":"quantitative","scale":{"domain":[2.5,20],"nice":false},"axis":{"values":[4,6,8,10,12,14,16,18,20],"tickCount":100,"labelExpr":"datum.value%10==0 ? format(datum.value,'d') : ''","labelOverlap":false,"title":null}},
   "y":{"field":"lo","type":"quantitative","scale":{"domain":[-0.09,1.0],"nice":false,"zero":false},"axis":{"values":[0,0.2,0.4,0.6,0.8,1],"tickCount":100,"labels":false,"title":null}},"y2":{"field":"hi"}}},
 {"data":{"name":"one"},"mark":{"type":"rule","color":"black","strokeWidth":1.3},"encoding":{"y":{"datum":0,"type":"quantitative"}}}
 ]},
{"width":42,"height":182,"data":{"values":[]},"mark":"rule","encoding":{},"view":{"stroke":null}},
{"width":247,"height":182,
 "layer":[
 {"data":{"name":"nr"},"mark":{"type":"rect","clip":true},
  "encoding":{"x":{"field":"x1","type":"quantitative","scale":{"domain":[0,2.5],"nice":false},"axis":{"values":[0,0.1,0.2,0.3,0.4,0.5,0.6,0.7,0.8,0.9,1,1.1,1.2,1.3,1.4,1.5,1.6,1.7,1.8,1.9,2,2.1,2.2,2.3,2.4,2.5],"tickCount":100,"labelExpr":"round(datum.value*10)%5==0 ? format(datum.value,'.1f') : ''","labelOverlap":false,"title":"Distance from the Lidar [km]","titleX":156}},"x2":{"field":"x2"},
   "y":{"datum":0.03,"type":"quantitative","scale":{"domain":[-0.17,2.15],"nice":false,"zero":false},"axis":{"values":[0,0.5,1,1.5,2],"tickCount":100,"format":".1f","labelOverlap":false,"title":"Normalized RC Signals [A.U.]"}},"y2":{"datum":2.15},
   "fill":{"field":"lab","type":"nominal","scale":{"range":["#dfdfdf"]},"legend":{"title":null,"orient":"top-right","offset":4,"symbolSize":0,"symbolStrokeWidth":0,"labelOffset":0,"labelLimit":400,"padding":3,"fillColor":"#e9f5f5","strokeColor":"#c5e2e2","cornerRadius":3}}}},
 {"data":{"name":"a3"},"mark":{"type":"area","clip":true,"color":"#8f6a45","opacity":0.8,"interpolate":"monotone"},"encoding":{"x":{"field":"x","type":"quantitative"},"y":{"field":"bl","type":"quantitative"},"y2":{"field":"bh"}}},
 {"data":{"name":"a3"},"transform":[{"filter":"datum.x>=1.75"}],"mark":{"type":"line","clip":true,"color":"white","strokeWidth":9,"interpolate":"monotone"},"encoding":{"x":{"field":"x","type":"quantitative"},"y":{"field":"n","type":"quantitative"}}},
 {"data":{"name":"a3"},"transform":[{"fold":["n","e","s","w"]}],"mark":{"type":"line","clip":true,"strokeWidth":6,"opacity":0.35,"interpolate":"monotone"},
  "encoding":{"x":{"field":"x","type":"quantitative"},"y":{"field":"value","type":"quantitative"},"stroke":{"field":"key","type":"nominal","scale":{"domain":["n","e","s","w"],"range":["#80b3e0","#ffb07a","#86cf86","#f09a9a"]},"legend":null}}},
 {"data":{"name":"a3"},"transform":[{"fold":["n","e","s","w"]}],"mark":{"type":"line","clip":true,"strokeWidth":1.5,"interpolate":"monotone"},
  "encoding":{"x":{"field":"x","type":"quantitative"},"y":{"field":"value","type":"quantitative"},"color":{"field":"key","type":"nominal","scale":{"domain":["n","e","s","w"],"range":["#10367a","#ff6a00","#178a17","#c00000"]},"legend":null}}},
 {"data":{"name":"one"},"mark":{"type":"rule","color":"black","strokeWidth":1.3},"encoding":{"y":{"datum":0,"type":"quantitative"}}},
 {"data":{"name":"mk"},"transform":[{"filter":"datum.p=='a3'"}],"mark":{"type":"point","filled":false,"color":"black","strokeWidth":1.3,"size":120,"opacity":1},
  "encoding":{"x":{"field":"x","type":"quantitative"},"y":{"field":"y","type":"quantitative"},"shape":{"field":"m","type":"nominal","scale":{"domain":["n","e","s","w","r"],"range":["circle","square","triangle-up","M-1,-1L1,1M-1,1L1,-1","M0,-1L0,1"]},"legend":null}}}
 ]},
{"width":92,"height":182,
 "layer":[
 {"data":{"name":"a4"},"transform":[{"fold":["n","e","s","w"]}],"mark":{"type":"line","clip":true,"strokeWidth":6,"opacity":0.35},
  "encoding":{"x":{"field":"x","type":"quantitative","scale":{"domain":[2.5,20],"nice":false},"axis":{"values":[4,6,8,10,12,14,16,18,20],"tickCount":100,"labelExpr":"datum.value%10==0 ? format(datum.value,'d') : ''","labelOverlap":false,"title":null}},
   "y":{"field":"value","type":"quantitative","scale":{"domain":[-0.17,2.15],"nice":false,"zero":false},"axis":{"values":[0,0.5,1,1.5,2],"tickCount":100,"labels":false,"title":null}},
   "stroke":{"field":"key","type":"nominal","scale":{"domain":["n","e","s","w"],"range":["#80b3e0","#ffb07a","#86cf86","#f09a9a"]},"legend":null}}},
 {"data":{"name":"a4"},"transform":[{"fold":["n","e","s","w"]}],"mark":{"type":"line","clip":true,"strokeWidth":1.4},
  "encoding":{"x":{"field":"x","type":"quantitative"},"y":{"field":"value","type":"quantitative"},"color":{"field":"key","type":"nominal","scale":{"domain":["n","e","s","w"],"range":["#10367a","#ff6a00","#178a17","#d00000"]},"legend":null}}},
 {"data":{"name":"one"},"mark":{"type":"rule","color":"black","strokeWidth":1.3},"encoding":{"y":{"datum":0,"type":"quantitative"}}}
 ]},
{"width":53,"height":182,"data":{"values":[]},"mark":"rule","encoding":{},"view":{"stroke":null}},
{"width":379,"height":182,
 "layer":[
 {"data":{"name":"a5"},"mark":{"type":"area","clip":true,"color":"#f4a99c","opacity":0.75,"interpolate":"monotone"},
  "encoding":{"x":{"field":"x","type":"quantitative","scale":{"domain":[0,2.5],"nice":false},"axis":{"values":[0,0.1,0.2,0.3,0.4,0.5,0.6,0.7,0.8,0.9,1,1.1,1.2,1.3,1.4,1.5,1.6,1.7,1.8,1.9,2,2.1,2.2,2.3,2.4,2.5],"tickCount":100,"labelExpr":"round(datum.value*10)%5==0 ? format(datum.value,'.1f') : ''","labelOverlap":false,"title":"Distance from the Lidar [km]"}},
   "y":{"field":"pl","type":"quantitative","scale":{"domain":[-0.2,0.2],"nice":false,"zero":false},"axis":{"values":[-0.2,-0.15,-0.1,-0.05,0,0.05,0.1,0.15,0.2],"tickCount":100,"labelExpr":"(datum.value<=0 ? '-' : '') + format(abs(datum.value),'.2f')","labelOverlap":false,"title":"Relative Sector Deviation","titleFontSize":12}},"y2":{"field":"ph"}}},
 {"data":{"name":"a5"},"mark":{"type":"area","clip":true,"color":"#8b6a48","opacity":0.8,"stroke":"#e8a8a8","strokeWidth":1,"interpolate":"monotone"},"encoding":{"x":{"field":"x","type":"quantitative"},"y":{"field":"bl","type":"quantitative"},"y2":{"field":"bh"}}},
 {"data":{"name":"a5"},"transform":[{"fold":["n","e","s","w"]}],"mark":{"type":"line","clip":true,"strokeWidth":7,"opacity":0.4,"interpolate":"monotone"},
  "encoding":{"x":{"field":"x","type":"quantitative"},"y":{"field":"value","type":"quantitative"},"stroke":{"field":"key","type":"nominal","scale":{"domain":["n","e","s","w"],"range":["#80b3e0","#ffb07a","#86cf86","#f09a9a"]},"legend":null}}},
 {"data":{"name":"a5"},"transform":[{"fold":["n","e","s","w"]}],"mark":{"type":"line","clip":true,"strokeWidth":1.5,"interpolate":"monotone"},
  "encoding":{"x":{"field":"x","type":"quantitative"},"y":{"field":"value","type":"quantitative"},"color":{"field":"key","type":"nominal","scale":{"domain":["n","e","s","w"],"range":["#0a2a6a","#e8600a","#0f6e0f","#8b0a0a"]},"legend":null}}},
 {"data":{"name":"a5"},"mark":{"type":"line","clip":true,"color":"#f2e600","strokeWidth":1.5,"interpolate":"monotone"},
  "encoding":{"x":{"field":"x","type":"quantitative"},"y":{"field":"r","type":"quantitative"},
   "strokeDash":{"datum":"RMS Sector Diff.","type":"nominal","scale":{"range":[[1,0]]},"legend":{"title":null,"orient":"none","legendX":225,"legendY":5,"symbolType":"stroke","symbolSize":784,"symbolStrokeWidth":1.5,"symbolStrokeColor":"#f2e600","clipHeight":16,"padding":3,"labelOffset":10,"fillColor":"rgba(255,255,255,0.85)","strokeColor":"#cccccc","cornerRadius":3}}}},
 {"data":{"name":"dl"},"mark":{"type":"rule","color":"black","strokeWidth":1.3,"strokeDash":[5,3]},"encoding":{"y":{"field":"v","type":"quantitative"}}},
 {"data":{"name":"mk"},"transform":[{"filter":"datum.p=='a5'"}],"mark":{"type":"point","filled":false,"color":"black","strokeWidth":1.3,"size":120,"opacity":1},
  "encoding":{"x":{"field":"x","type":"quantitative"},"y":{"field":"y","type":"quantitative"},"shape":{"field":"m","type":"nominal","scale":{"domain":["n","e","s","w","r"],"range":["circle","square","triangle-up","M-1,-1L1,1M-1,1L1,-1","M0,-1L0,1"]},
   "legend":{"title":null,"values":["r"],"orient":"none","legendX":234,"legendY":5,"symbolSize":110,"symbolStrokeWidth":1.5,"symbolStrokeColor":"black","symbolFillColor":"transparent","clipHeight":16,"padding":3,"labelOpacity":0}}}}
 ]}
]},
{
"title":{"text":["RALI INOE_Magurele 0532xpar - Telecover Test - Smoothing: 0.0 to 2.5 km, Win.: 500.0m","On 19.07.2023 from 20:05:25 to 20:23:54 UTC,  ↗ 3.0° off-zenith - Iterations: 5, Sampling Time per Sector: 43s"],"anchor":"start","align":"center","frame":"group","dx":602,"fontSize":15.2,"lineHeight":17.5,"offset":-13},
"bounds":"flush","spacing":12,
"resolve":{"scale":{"color":"independent","shape":"independent","fill":"independent","stroke":"independent","strokeDash":"independent"},"legend":{"color":"independent","shape":"independent","fill":"independent","stroke":"independent","strokeDash":"independent"}},
"hconcat":[
{"width":250,"height":182,
 "title":{"text":"×10⁶","anchor":"start","fontSize":12,"offset":3,"frame":"group"},
 "layer":[
 {"data":{"name":"b1"},"transform":[{"fold":["n","e","s","w"]}],"mark":{"type":"line","clip":true,"strokeWidth":1.2},
  "encoding":{
   "x":{"field":"x","type":"quantitative","scale":{"domain":[0,2.5],"nice":false},"axis":{"values":[0,0.1,0.2,0.3,0.4,0.5,0.6,0.7,0.8,0.9,1,1.1,1.2,1.3,1.4,1.5,1.6,1.7,1.8,1.9,2,2.1,2.2,2.3,2.4,2.5],"tickCount":100,"labelExpr":"round(datum.value*10)%5==0 ? format(datum.value,'.1f') : ''","labelOverlap":false,"title":"Distance from the Lidar [km]","titleX":156}},
   "y":{"field":"value","type":"quantitative","scale":{"domain":[-0.09,1.02],"nice":false,"zero":false},"axis":{"values":[0,0.2,0.4,0.6,0.8,1],"tickCount":100,"format":".1f","labelOverlap":false,"title":"RC Signals [A.U.]"}},
   "color":{"field":"key","type":"nominal","scale":{"domain":["n","e","s","w"],"range":["#1f6cb0","#ff7f0e","#2ca02c","#b22222"]},
     "legend":{"title":null,"orient":"none","legendX":162,"legendY":98,"direction":"vertical","symbolType":"stroke","symbolSize":784,"symbolStrokeWidth":1.5,"clipHeight":13,"rowPadding":6,"padding":3,"labelOffset":9,"labelExpr":"datum.label=='n'?'north':datum.label=='e'?'east':datum.label=='s'?'south':'west'","fillColor":"rgba(255,255,255,0.85)","strokeColor":"#cccccc","cornerRadius":3}}
  }},
 {"data":{"name":"one"},"mark":{"type":"rule","color":"black","strokeWidth":1.3},"encoding":{"y":{"datum":0,"type":"quantitative"}}},
 {"data":{"name":"mk"},"transform":[{"filter":"datum.p=='b1'"}],"mark":{"type":"point","filled":false,"color":"black","strokeWidth":1.3,"size":120,"opacity":1},
  "encoding":{"x":{"field":"x","type":"quantitative"},"y":{"field":"y","type":"quantitative"},
   "shape":{"field":"m","type":"nominal","scale":{"domain":["n","e","s","w","r"],"range":["circle","square","triangle-up","M-1,-1L1,1M-1,1L1,-1","M0,-1L0,1"]},
     "legend":{"title":null,"values":["n","e","s","w"],"orient":"none","legendX":174.5,"legendY":98,"direction":"vertical","symbolSize":120,"symbolStrokeWidth":1.3,"symbolStrokeColor":"black","symbolFillColor":"transparent","clipHeight":13,"rowPadding":6,"padding":3,"labelOpacity":0}}}}
 ]},
{"width":92,"height":182,
 "layer":[
 {"data":{"name":"b2"},"mark":{"type":"area","clip":true,"color":"#b1462b","opacity":1},
  "encoding":{"x":{"field":"x","type":"quantitative","scale":{"domain":[2.5,20],"nice":false},"axis":{"values":[4,6,8,10,12,14,16,18,20],"tickCount":100,"labelExpr":"datum.value%10==0 ? format(datum.value,'d') : ''","labelOverlap":false,"title":null}},
   "y":{"field":"lo","type":"quantitative","scale":{"domain":[-0.09,1.02],"nice":false,"zero":false},"axis":{"values":[0,0.2,0.4,0.6,0.8,1],"tickCount":100,"labels":false,"title":null}},"y2":{"field":"hi"}}},
 {"data":{"name":"one"},"mark":{"type":"rule","color":"black","strokeWidth":1.3},"encoding":{"y":{"datum":0,"type":"quantitative"}}}
 ]},
{"width":42,"height":182,"data":{"values":[]},"mark":"rule","encoding":{},"view":{"stroke":null}},
{"width":247,"height":182,
 "layer":[
 {"data":{"name":"nr"},"mark":{"type":"rect","clip":true},
  "encoding":{"x":{"field":"x1","type":"quantitative","scale":{"domain":[0,2.5],"nice":false},"axis":{"values":[0,0.1,0.2,0.3,0.4,0.5,0.6,0.7,0.8,0.9,1,1.1,1.2,1.3,1.4,1.5,1.6,1.7,1.8,1.9,2,2.1,2.2,2.3,2.4,2.5],"tickCount":100,"labelExpr":"round(datum.value*10)%5==0 ? format(datum.value,'.1f') : ''","labelOverlap":false,"title":"Distance from the Lidar [km]","titleX":156}},"x2":{"field":"x2"},
   "y":{"datum":0.03,"type":"quantitative","scale":{"domain":[-0.14,1.83],"nice":false,"zero":false},"axis":{"values":[0,0.5,1,1.5],"tickCount":100,"format":".1f","labelOverlap":false,"title":"Normalized RC Signals [A.U.]"}},"y2":{"datum":1.83},
   "fill":{"field":"lab","type":"nominal","scale":{"range":["#dfdfdf"]},"legend":{"title":null,"orient":"top-right","offset":4,"symbolSize":0,"symbolStrokeWidth":0,"labelOffset":0,"labelLimit":400,"padding":3,"fillColor":"#e9f5f5","strokeColor":"#c5e2e2","cornerRadius":3}}}},
 {"data":{"name":"b3"},"transform":[{"filter":"datum.x>=1.75"}],"mark":{"type":"line","clip":true,"color":"white","strokeWidth":9,"interpolate":"monotone"},"encoding":{"x":{"field":"x","type":"quantitative"},"y":{"field":"n","type":"quantitative"}}},
 {"data":{"name":"b3"},"transform":[{"fold":["n","e","s","w"]}],"mark":{"type":"line","clip":true,"strokeWidth":6,"opacity":0.35,"interpolate":"monotone"},
  "encoding":{"x":{"field":"x","type":"quantitative"},"y":{"field":"value","type":"quantitative"},"stroke":{"field":"key","type":"nominal","scale":{"domain":["n","e","s","w"],"range":["#80b3e0","#ffb07a","#86cf86","#f09a9a"]},"legend":null}}},
 {"data":{"name":"b3"},"transform":[{"fold":["n","e","s","w"]}],"mark":{"type":"line","clip":true,"strokeWidth":1.5,"interpolate":"monotone"},
  "encoding":{"x":{"field":"x","type":"quantitative"},"y":{"field":"value","type":"quantitative"},"color":{"field":"key","type":"nominal","scale":{"domain":["n","e","s","w"],"range":["#10367a","#ff6a00","#178a17","#c00000"]},"legend":null}}},
 {"data":{"name":"one"},"mark":{"type":"rule","color":"black","strokeWidth":1.3},"encoding":{"y":{"datum":0,"type":"quantitative"}}},
 {"data":{"name":"mk"},"transform":[{"filter":"datum.p=='b3'"}],"mark":{"type":"point","filled":false,"color":"black","strokeWidth":1.3,"size":120,"opacity":1},
  "encoding":{"x":{"field":"x","type":"quantitative"},"y":{"field":"y","type":"quantitative"},"shape":{"field":"m","type":"nominal","scale":{"domain":["n","e","s","w","r"],"range":["circle","square","triangle-up","M-1,-1L1,1M-1,1L1,-1","M0,-1L0,1"]},"legend":null}}}
 ]},
{"width":92,"height":182,
 "layer":[
 {"data":{"name":"b4"},"transform":[{"fold":["n","e","s","w"]}],"mark":{"type":"line","clip":true,"strokeWidth":6,"opacity":0.35},
  "encoding":{"x":{"field":"x","type":"quantitative","scale":{"domain":[2.5,20],"nice":false},"axis":{"values":[4,6,8,10,12,14,16,18,20],"tickCount":100,"labelExpr":"datum.value%10==0 ? format(datum.value,'d') : ''","labelOverlap":false,"title":null}},
   "y":{"field":"value","type":"quantitative","scale":{"domain":[-0.14,1.83],"nice":false,"zero":false},"axis":{"values":[0,0.5,1,1.5],"tickCount":100,"labels":false,"title":null}},
   "stroke":{"field":"key","type":"nominal","scale":{"domain":["n","e","s","w"],"range":["#80b3e0","#ffb07a","#86cf86","#f09a9a"]},"legend":null}}},
 {"data":{"name":"b4"},"transform":[{"fold":["n","e","s","w"]}],"mark":{"type":"line","clip":true,"strokeWidth":1.4},
  "encoding":{"x":{"field":"x","type":"quantitative"},"y":{"field":"value","type":"quantitative"},"color":{"field":"key","type":"nominal","scale":{"domain":["n","e","s","w"],"range":["#10367a","#ff6a00","#178a17","#d00000"]},"legend":null}}},
 {"data":{"name":"one"},"mark":{"type":"rule","color":"black","strokeWidth":1.3},"encoding":{"y":{"datum":0,"type":"quantitative"}}}
 ]},
{"width":53,"height":182,"data":{"values":[]},"mark":"rule","encoding":{},"view":{"stroke":null}},
{"width":379,"height":182,
 "layer":[
 {"data":{"name":"b5"},"mark":{"type":"area","clip":true,"color":"#8d7358","opacity":0.75,"stroke":"#9ec5e0","strokeWidth":1,"interpolate":"monotone"},
  "encoding":{"x":{"field":"x","type":"quantitative","scale":{"domain":[0,2.5],"nice":false},"axis":{"values":[0,0.1,0.2,0.3,0.4,0.5,0.6,0.7,0.8,0.9,1,1.1,1.2,1.3,1.4,1.5,1.6,1.7,1.8,1.9,2,2.1,2.2,2.3,2.4,2.5],"tickCount":100,"labelExpr":"round(datum.value*10)%5==0 ? format(datum.value,'.1f') : ''","labelOverlap":false,"title":"Distance from the Lidar [km]"}},
   "y":{"field":"bl","type":"quantitative","scale":{"domain":[-0.2,0.2],"nice":false,"zero":false},"axis":{"values":[-0.2,-0.15,-0.1,-0.05,0,0.05,0.1,0.15,0.2],"tickCount":100,"labelExpr":"(datum.value<=0 ? '-' : '') + format(abs(datum.value),'.2f')","labelOverlap":false,"title":"Relative Sector Deviation","titleFontSize":12}},"y2":{"field":"bh"}}},
 {"data":{"name":"b5"},"transform":[{"fold":["n","e","s","w"]}],"mark":{"type":"line","clip":true,"strokeWidth":7,"opacity":0.4,"interpolate":"monotone"},
  "encoding":{"x":{"field":"x","type":"quantitative"},"y":{"field":"value","type":"quantitative"},"stroke":{"field":"key","type":"nominal","scale":{"domain":["n","e","s","w"],"range":["#80b3e0","#ffb07a","#86cf86","#f09a9a"]},"legend":null}}},
 {"data":{"name":"b5"},"transform":[{"fold":["n","e","s","w"]}],"mark":{"type":"line","clip":true,"strokeWidth":1.5,"interpolate":"monotone"},
  "encoding":{"x":{"field":"x","type":"quantitative"},"y":{"field":"value","type":"quantitative"},"color":{"field":"key","type":"nominal","scale":{"domain":["n","e","s","w"],"range":["#0a2a6a","#e8600a","#0f6e0f","#8b0a0a"]},"legend":null}}},
 {"data":{"name":"b5"},"mark":{"type":"line","clip":true,"color":"#f2e600","strokeWidth":1.5,"interpolate":"monotone"},
  "encoding":{"x":{"field":"x","type":"quantitative"},"y":{"field":"r","type":"quantitative"},
   "strokeDash":{"datum":"RMS Sector Diff.","type":"nominal","scale":{"range":[[1,0]]},"legend":{"title":null,"orient":"none","legendX":225,"legendY":5,"symbolType":"stroke","symbolSize":784,"symbolStrokeWidth":1.5,"symbolStrokeColor":"#f2e600","clipHeight":16,"padding":3,"labelOffset":10,"fillColor":"rgba(255,255,255,0.85)","strokeColor":"#cccccc","cornerRadius":3}}}},
 {"data":{"name":"dl"},"mark":{"type":"rule","color":"black","strokeWidth":1.3,"strokeDash":[5,3]},"encoding":{"y":{"field":"v","type":"quantitative"}}},
 {"data":{"name":"mk"},"transform":[{"filter":"datum.p=='b5'"}],"mark":{"type":"point","filled":false,"color":"black","strokeWidth":1.3,"size":120,"opacity":1},
  "encoding":{"x":{"field":"x","type":"quantitative"},"y":{"field":"y","type":"quantitative"},"shape":{"field":"m","type":"nominal","scale":{"domain":["n","e","s","w","r"],"range":["circle","square","triangle-up","M-1,-1L1,1M-1,1L1,-1","M0,-1L0,1"]},
   "legend":{"title":null,"values":["r"],"orient":"none","legendX":234,"legendY":5,"symbolSize":110,"symbolStrokeWidth":1.5,"symbolStrokeColor":"black","symbolFillColor":"transparent","clipHeight":16,"padding":3,"labelOpacity":0}}}}
 ]}
]}
],
"config":{
 "font":"DejaVu Sans",
 "view":{"stroke":"black","strokeWidth":1},
 "axis":{"domain":false,"ticks":true,"tickColor":"black","tickSize":4,"tickWidth":1,"labelColor":"black","labelFontSize":12.7,"labelFont":"DejaVu Sans","titleFont":"DejaVu Sans","titleFontSize":12.7,"titleFontWeight":"normal","titleColor":"black","gridColor":"#b3b3b3","gridWidth":1,"gridOpacity":1,"labelFlush":false,"labelOverlap":false,"labelPadding":2,"titlePadding":3},
 "legend":{"labelFont":"DejaVu Sans","labelFontSize":12.7,"labelColor":"black"},
 "title":{"font":"DejaVu Sans","fontWeight":"normal","color":"black"}
}
}
